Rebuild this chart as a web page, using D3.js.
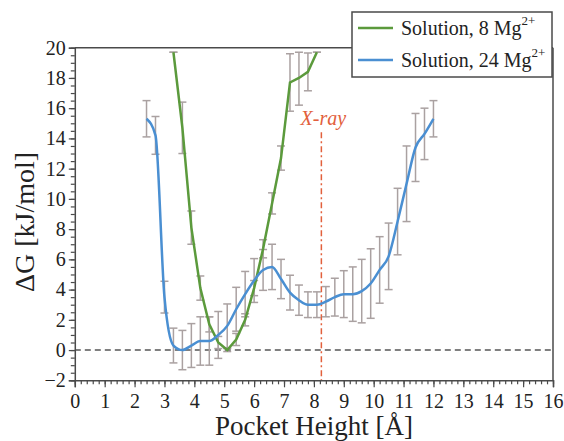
<!DOCTYPE html>
<html>
<head>
<meta charset="utf-8">
<script src="https://cdn.jsdelivr.net/npm/d3@7"></script>
<style>
  body { margin: 0; background: #fff; }
  svg text { font-family: 'Liberation Serif', 'Times New Roman', serif !important; }
</style>
</head>
<body>
<svg id="chart" width="564" height="441"></svg>
<script>
// Pocket height [Å] grid for each run
var heights8 = [3.3, 3.6, 3.9, 4.2, 4.5, 4.8, 5.1, 5.4, 5.7, 6.0, 6.3, 6.6, 6.9, 7.2, 7.5, 7.8, 8.1];
// Solution, 8 Mg2+  (dG, error)
var dG8  = [19.7, 14.7, 8.1, 4.1, 1.7, 0.5, 0.0, 0.7, 2.0, 4.1, 6.7, 9.7, 12.7, 17.7, 18.0, 18.4, 19.7];
var err8 = [0.0, 1.7, 1.1, 0.8, 0.5, 0.4, 0.1, 0.4, 0.4, 0.5, 0.6, 0.7, 0.8, 1.9, 1.8, 1.25, 0.0];

var heights24 = [2.4, 2.7, 3.0, 3.3, 3.6, 3.9, 4.2, 4.5, 4.8, 5.1, 5.4, 5.7, 6.0, 6.3, 6.6, 6.9,
                 7.2, 7.5, 7.8, 8.1, 8.4, 8.7, 9.0, 9.3, 9.6, 9.9, 10.2, 10.5, 10.8, 11.1, 11.4, 11.7, 12.0];
// Solution, 24 Mg2+  (dG, error)
var dG24  = [15.3, 14.2, 3.5, 0.3, 0.0, 0.3, 0.6, 0.6, 1.0, 1.6, 2.7, 3.7, 4.6, 5.3, 5.5, 4.7,
             3.8, 3.3, 3.0, 3.0, 3.2, 3.5, 3.7, 3.7, 3.9, 4.4, 5.3, 6.2, 8.5, 11.0, 13.4, 14.3, 15.3];
var err24 = [1.2, 1.25, 1.05, 1.15, 1.3, 1.45, 1.6, 1.6, 1.55, 1.45, 1.45, 1.5, 1.45, 1.35, 1.5, 1.3,
             1.15, 1.0, 0.85, 0.85, 1.0, 1.25, 1.55, 1.8, 2.1, 2.3, 2.2, 2.2, 2.2, 2.5, 2.25, 1.7, 1.2];

var xrayHeight = 8.25;
var xTicks = d3.range(0, 17, 1);
var yTicks = d3.range(-2, 21, 2);

var svg = d3.select('#chart');
var W = 564, H = 441;
var pLeft = 74.8, pRight = 553, pTop = 47.7, pBottom = 380.3;

var x = d3.scaleLinear().domain([0, 16]).range([pLeft, pRight]);
var y = d3.scaleLinear().domain([-2, 20]).range([pBottom, pTop]);

var axisColor = '#4a4a4a';
var green = '#5b9a3c';
var blue = '#4a8fd2';
var errColor = '#aaa1a1';

svg.append('rect').attr('width', W).attr('height', H).attr('fill', '#fff');

// frame (top and right)
svg.append('line').attr('x1', pLeft).attr('x2', pRight).attr('y1', pTop).attr('y2', pTop)
   .attr('stroke', axisColor).attr('stroke-width', 1.5);
svg.append('line').attr('x1', pRight).attr('x2', pRight).attr('y1', pTop).attr('y2', pBottom)
   .attr('stroke', axisColor).attr('stroke-width', 1.5);

// zero line
svg.append('line').attr('x1', pLeft).attr('x2', pRight).attr('y1', y(0)).attr('y2', y(0))
   .attr('stroke', '#555').attr('stroke-width', 1.5).attr('stroke-dasharray', '6,4');

// X-ray marker
svg.append('line').attr('x1', x(xrayHeight)).attr('x2', x(xrayHeight))
   .attr('y1', y(14.4)).attr('y2', pBottom)
   .attr('stroke', '#e2603c').attr('stroke-width', 1.5).attr('stroke-dasharray', '6,3,2,3');
svg.append('text').attr('x', x(xrayHeight) + 2).attr('y', 125)
   .attr('text-anchor', 'middle').attr('font-style', 'italic').attr('font-size', 20)
   .attr('fill', '#e2603c').text('X-ray');

// error bars
var drawErr = function(xs, ys, es) {
  var g = svg.append('g');
  xs.forEach(function(h, i) {
    var hi = Math.min(ys[i] + es[i], 19.7), lo = ys[i] - es[i];
    var cx = x(h);
    g.append('line').attr('x1', cx).attr('x2', cx).attr('y1', y(hi)).attr('y2', y(lo))
     .attr('stroke', errColor).attr('stroke-width', 1.5);
    [hi, lo].forEach(function(v) {
      g.append('line').attr('x1', cx - 4).attr('x2', cx + 4).attr('y1', y(v)).attr('y2', y(v))
       .attr('stroke', errColor).attr('stroke-width', 1.5);
    });
  });
};
drawErr(heights24, dG24, err24);
drawErr(heights8, dG8, err8);

// curves
var line8 = d3.line().x(function(d) { return x(d[0]); }).y(function(d) { return y(d[1]); });
var line24 = d3.line().x(function(d) { return x(d[0]); }).y(function(d) { return y(d[1]); })
  .curve(d3.curveMonotoneX);

svg.append('path').datum(d3.zip(heights8, dG8)).attr('d', line8)
   .attr('fill', 'none').attr('stroke', green).attr('stroke-width', 2.5);
svg.append('path').datum(d3.zip(heights24, dG24)).attr('d', line24)
   .attr('fill', 'none').attr('stroke', blue).attr('stroke-width', 2.5);

// axes
svg.append('g').attr('transform', 'translate(0,' + pBottom + ')')
  .call(d3.axisBottom(x).tickValues(xTicks).tickSize(7).tickPadding(7).tickFormat(d3.format('d')));
svg.append('g').attr('transform', 'translate(0,' + pBottom + ')')
  .call(d3.axisBottom(x).tickValues(d3.range(0, 16.01, 0.2)).tickSize(4).tickFormat(''))
  .select('.domain').remove();
svg.append('g').attr('transform', 'translate(' + pLeft + ',0)')
  .call(d3.axisLeft(y).tickValues(yTicks).tickSize(6).tickPadding(3).tickFormat(d3.format('d')));
svg.append('g').attr('transform', 'translate(' + pLeft + ',0)')
  .call(d3.axisLeft(y).tickValues(d3.range(-2, 20.01, 0.5)).tickSize(4).tickFormat(''))
  .select('.domain').remove();

svg.selectAll('.domain').attr('stroke', axisColor).attr('stroke-width', 1.5);
svg.selectAll('.tick line').attr('stroke', axisColor).attr('stroke-width', 1.2);
svg.selectAll('.tick text').attr('font-size', 20).attr('fill', '#222');

// axis titles
svg.append('text').attr('x', (pLeft + pRight) / 2).attr('y', 435).attr('text-anchor', 'middle')
   .attr('font-size', 27).attr('fill', '#222').text('Pocket Height [Å]');
svg.append('text').attr('transform', 'translate(34,222) rotate(-90)').attr('text-anchor', 'middle')
   .attr('font-size', 28).attr('fill', '#222').text('ΔG [kJ/mol]');

// legend
var lg = svg.append('g');
lg.append('rect').attr('x', 352).attr('y', 12).attr('width', 200).attr('height', 65)
  .attr('fill', '#fff').attr('stroke', axisColor).attr('stroke-width', 1.5);
var legendItems = [
  {label: 'Solution, 8 Mg', color: green},
  {label: 'Solution, 24 Mg', color: blue}
];
legendItems.forEach(function(d, i) {
  var ly = 28 + i * 32;
  lg.append('line').attr('x1', 358).attr('x2', 393).attr('y1', ly).attr('y2', ly)
    .attr('stroke', d.color).attr('stroke-width', 2.5);
  var t = lg.append('text').attr('x', 401).attr('y', ly + 7).attr('font-size', 20).attr('fill', '#222');
  t.append('tspan').text(d.label);
  t.append('tspan').attr('dy', -10).attr('font-size', 13).text('2+');
});
</script>
</body>
</html>
